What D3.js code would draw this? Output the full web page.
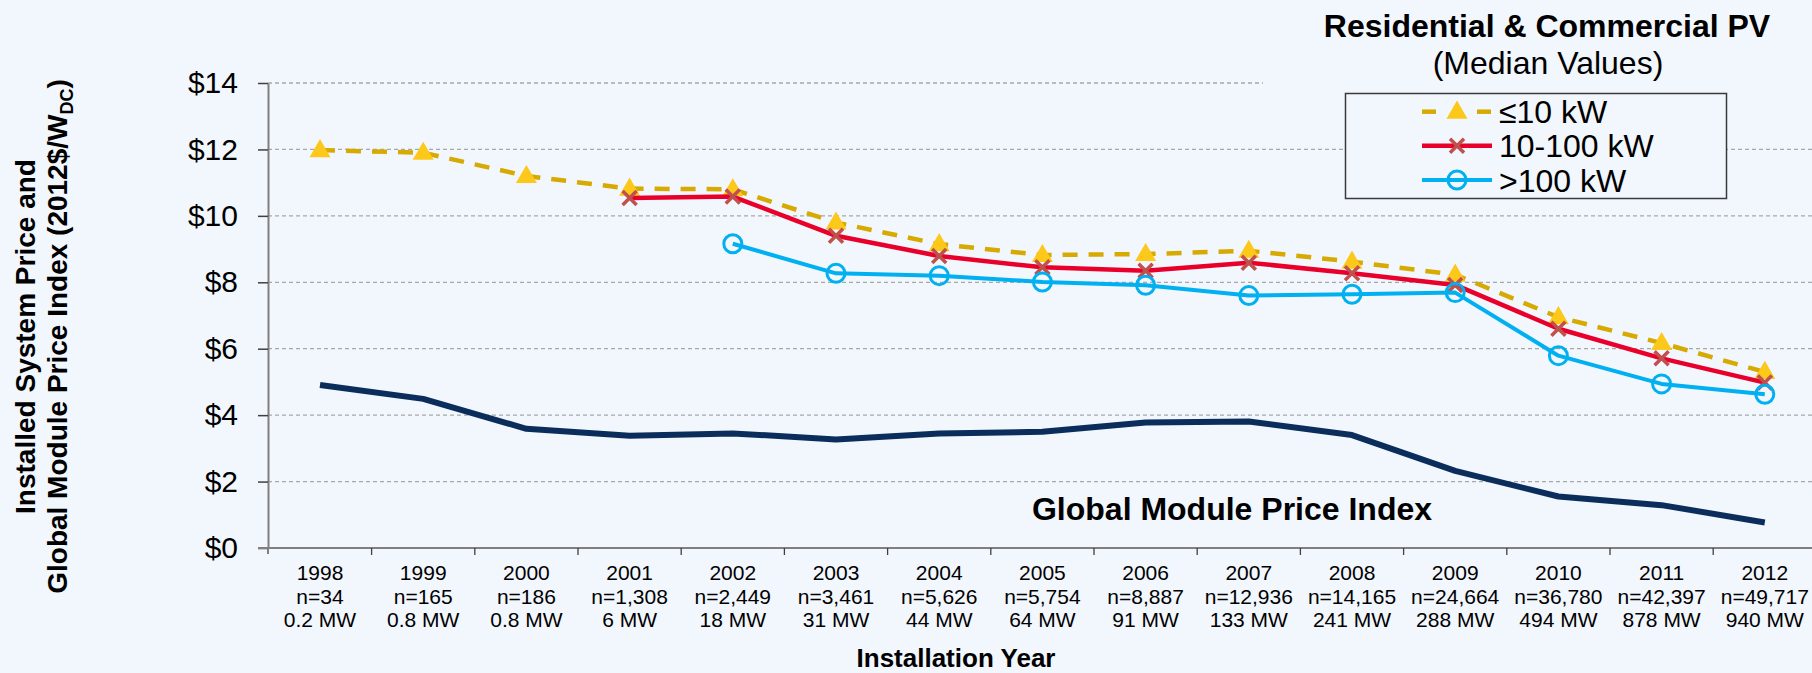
<!DOCTYPE html>
<html>
<head>
<meta charset="utf-8">
<script src="https://cdn.jsdelivr.net/npm/d3@7"></script>
<style>
  html, body { margin: 0; padding: 0; background: #F2F6FD; }
  svg { display: block; font-family: "Liberation Sans", Arial, sans-serif; }
</style>
</head>
<body>
<svg id="chart" width="1812" height="673"></svg>
<script>
// ---------------- data ----------------
const years = [1998, 1999, 2000, 2001, 2002, 2003, 2004, 2005, 2006, 2007, 2008, 2009, 2010, 2011, 2012];
const nCounts = ["n=34", "n=165", "n=186", "n=1,308", "n=2,449", "n=3,461", "n=5,626", "n=5,754", "n=8,887", "n=12,936", "n=14,165", "n=24,664", "n=36,780", "n=42,397", "n=49,717"];
const capacities = ["0.2 MW", "0.8 MW", "0.8 MW", "6 MW", "18 MW", "31 MW", "44 MW", "64 MW", "91 MW", "133 MW", "241 MW", "288 MW", "494 MW", "878 MW", "940 MW"];
const small = [11.98, 11.9, 11.2, 10.82, 10.8, 9.8, 9.15, 8.82, 8.85, 8.95, 8.62, 8.23, 6.95, 6.17, 5.3];
const medium = [null, null, null, 10.54, 10.58, 9.4, 8.79, 8.45, 8.35, 8.59, 8.27, 7.92, 6.6, 5.71, 4.98];
const large = [null, null, null, null, 9.16, 8.27, 8.2, 8.01, 7.91, 7.6, 7.64, 7.69, 5.79, 4.94, 4.63];
const moduleIndex = [4.91, 4.49, 3.59, 3.38, 3.45, 3.27, 3.45, 3.5, 3.78, 3.81, 3.4, 2.32, 1.55, 1.29, 0.77];
const yTicks = [0, 2, 4, 6, 8, 10, 12, 14];
const seriesNames = ["\u226410 kW", "10-100 kW", ">100 kW"];

// ---------------- setup ----------------
const W = 1812, H = 673;
const BG = "#F2F6FD";
const svg = d3.select("#chart");
svg.append("rect").attr("width", W).attr("height", H).attr("fill", BG);

const x = d3.scaleBand().domain(years).range([268.4, 1816.4]).padding(0);
const y = d3.scaleLinear().domain([0, 14]).range([548, 83]);
const cx = yr => x(yr) + x.bandwidth() / 2;

// gridlines
svg.append("g").selectAll("line").data(yTicks.filter(d => d > 0)).join("line")
  .attr("x1", 268).attr("x2", W)
  .attr("y1", d => y(d)).attr("y2", d => y(d))
  .attr("stroke", "#A8A8A8").attr("stroke-width", 1.3).attr("stroke-dasharray", "4,3");

// cut gridline under title
svg.append("rect").attr("x", 1263).attr("y", 60).attr("width", W - 1263).attr("height", 32).attr("fill", BG);

// y axis
const yAxis = svg.append("g").attr("transform", "translate(268,0)")
  .call(d3.axisLeft(y).tickValues(yTicks).tickFormat(d => "$" + d).tickSize(10).tickSizeOuter(0).tickPadding(20));
yAxis.select(".domain").attr("stroke", "#7F7F7F").attr("stroke-width", 2);
yAxis.selectAll(".tick line").attr("stroke", "#404040").attr("stroke-width", 1.5);
yAxis.selectAll(".tick text").attr("font-size", 30).attr("fill", "#000")
  .attr("font-family", "'Liberation Sans', Arial, sans-serif");
svg.append("line").attr("x1", 268).attr("x2", 268).attr("y1", 548).attr("y2", 554)
  .attr("stroke", "#7F7F7F").attr("stroke-width", 2);

// x axis
const xAxis = svg.append("g").attr("transform", "translate(0,548)")
  .call(d3.axisBottom(x).tickSize(0).tickPadding(0).tickFormat(""));
xAxis.select(".domain").remove();
xAxis.append("line").attr("x1", 258).attr("x2", W).attr("y1", 0).attr("y2", 0)
  .attr("stroke", "#7F7F7F").attr("stroke-width", 2);
const edges = years.map(d => x(d)).concat([x.range()[1]]);
xAxis.selectAll(".edge").data(edges.slice(1)).join("line").attr("class", "edge")
  .attr("x1", d => d).attr("x2", d => d).attr("y1", 0).attr("y2", 7)
  .attr("stroke", "#404040").attr("stroke-width", 1.3);
xAxis.selectAll(".tick").each(function(d, i) {
  const t = d3.select(this).select("text").text(null)
    .attr("font-size", 21).attr("fill", "#000").attr("text-anchor", "middle")
    .attr("font-family", "'Liberation Sans', Arial, sans-serif").attr("dy", null).attr("y", 0);
  t.append("tspan").attr("x", 0).attr("y", 32).text(years[i]);
  t.append("tspan").attr("x", 0).attr("y", 56).text(nCounts[i]);
  t.append("tspan").attr("x", 0).attr("y", 79).text(capacities[i]);
});

// axis titles
svg.append("text").attr("x", 956).attr("y", 667).attr("text-anchor", "middle")
  .attr("font-size", 26).attr("font-weight", "bold").text("Installation Year");

const yt = svg.append("g").attr("transform", "translate(0,336.5) rotate(-90)");
yt.append("text").attr("x", 0).attr("y", 35).attr("text-anchor", "middle")
  .attr("font-size", 28).attr("font-weight", "bold").text("Installed System Price and");
const yt2 = yt.append("text").attr("x", 0).attr("y", 67).attr("text-anchor", "middle")
  .attr("font-size", 28).attr("font-weight", "bold");
yt2.append("tspan").text("Global Module Price Index (2012$/W");
yt2.append("tspan").attr("font-size", 18).attr("dy", 6).text("DC");
yt2.append("tspan").attr("dy", -6).text(")");

// ---------------- series ----------------
const toPts = arr => years.map((yr, i) => ({ yr, v: arr[i] }));
const line = d3.line().defined(d => d.v != null).x(d => cx(d.yr)).y(d => y(d.v));

// module index
svg.append("path").datum(toPts(moduleIndex)).attr("d", line)
  .attr("fill", "none").attr("stroke", "#0B2D5B").attr("stroke-width", 6)
  .attr("stroke-linejoin", "round");

svg.append("text").attr("x", 1232).attr("y", 520).attr("text-anchor", "middle")
  .attr("font-size", 32).attr("font-weight", "bold").text("Global Module Price Index");

const triPath = d3.symbol().type(d3.symbolTriangle).size(190)();
const xPath = "M-7,-7L7,7M-7,7L7,-7";

function drawTri(g, px, py) {
  g.append("path").attr("d", triPath).attr("transform", `translate(${px},${py + 1})`).attr("fill", "#FCC81A");
}
function drawX(g, px, py) {
  g.append("path").attr("d", xPath).attr("transform", `translate(${px},${py})`)
    .attr("stroke", "#C0504D").attr("stroke-width", 3.5).attr("fill", "none");
}
function drawO(g, px, py) {
  g.append("circle").attr("cx", px).attr("cy", py).attr("r", 9)
    .attr("stroke", "#00B0F0").attr("stroke-width", 3).attr("fill", "none");
}

// <=10 kW
const gS = svg.append("g");
gS.append("path").datum(toPts(small)).attr("d", line).attr("fill", "none")
  .attr("stroke", "#D6AA00").attr("stroke-width", 4.5).attr("stroke-dasharray", "15,11");
toPts(small).filter(d => d.v != null).forEach(d => drawTri(gS, cx(d.yr), y(d.v)));

// 10-100 kW
const gM = svg.append("g");
gM.append("path").datum(toPts(medium)).attr("d", line).attr("fill", "none")
  .attr("stroke", "#E8002B").attr("stroke-width", 4.5).attr("stroke-linejoin", "round");
toPts(medium).filter(d => d.v != null).forEach(d => drawX(gM, cx(d.yr), y(d.v)));

// >100 kW
const gL = svg.append("g");
gL.append("path").datum(toPts(large)).attr("d", line).attr("fill", "none")
  .attr("stroke", "#00B0F0").attr("stroke-width", 4).attr("stroke-linejoin", "round");
toPts(large).filter(d => d.v != null).forEach(d => drawO(gL, cx(d.yr), y(d.v)));

// ---------------- title & legend ----------------
svg.append("text").attr("x", 1547).attr("y", 37).attr("text-anchor", "middle")
  .attr("font-size", 32).attr("font-weight", "bold").text("Residential & Commercial PV");
svg.append("text").attr("x", 1548).attr("y", 74).attr("text-anchor", "middle")
  .attr("font-size", 32).text("(Median Values)");

const lg = svg.append("g");
lg.append("rect").attr("x", 1345.5).attr("y", 93.5).attr("width", 381).attr("height", 105)
  .attr("fill", BG).attr("stroke", "#3A3A3A").attr("stroke-width", 1.5);
const rowsY = [111.7, 145.7, 180];
// row 1
lg.append("line").attr("x1", 1422).attr("x2", 1436).attr("y1", rowsY[0]).attr("y2", rowsY[0])
  .attr("stroke", "#D6AA00").attr("stroke-width", 4.5);
lg.append("line").attr("x1", 1477).attr("x2", 1491).attr("y1", rowsY[0]).attr("y2", rowsY[0])
  .attr("stroke", "#D6AA00").attr("stroke-width", 4.5);
drawTri(lg, 1457, rowsY[0]);
// row 2
lg.append("line").attr("x1", 1422).attr("x2", 1492).attr("y1", rowsY[1]).attr("y2", rowsY[1])
  .attr("stroke", "#E8002B").attr("stroke-width", 4.5);
drawX(lg, 1457, rowsY[1]);
// row 3
lg.append("line").attr("x1", 1422).attr("x2", 1492).attr("y1", rowsY[2]).attr("y2", rowsY[2])
  .attr("stroke", "#00B0F0").attr("stroke-width", 4);
drawO(lg, 1457, rowsY[2]);
lg.selectAll(".lt").data(seriesNames).join("text").attr("class", "lt")
  .attr("x", 1499).attr("y", (d, i) => rowsY[i]).attr("dy", "0.36em")
  .attr("font-size", 32).text(d => d);
</script>
</body>
</html>
